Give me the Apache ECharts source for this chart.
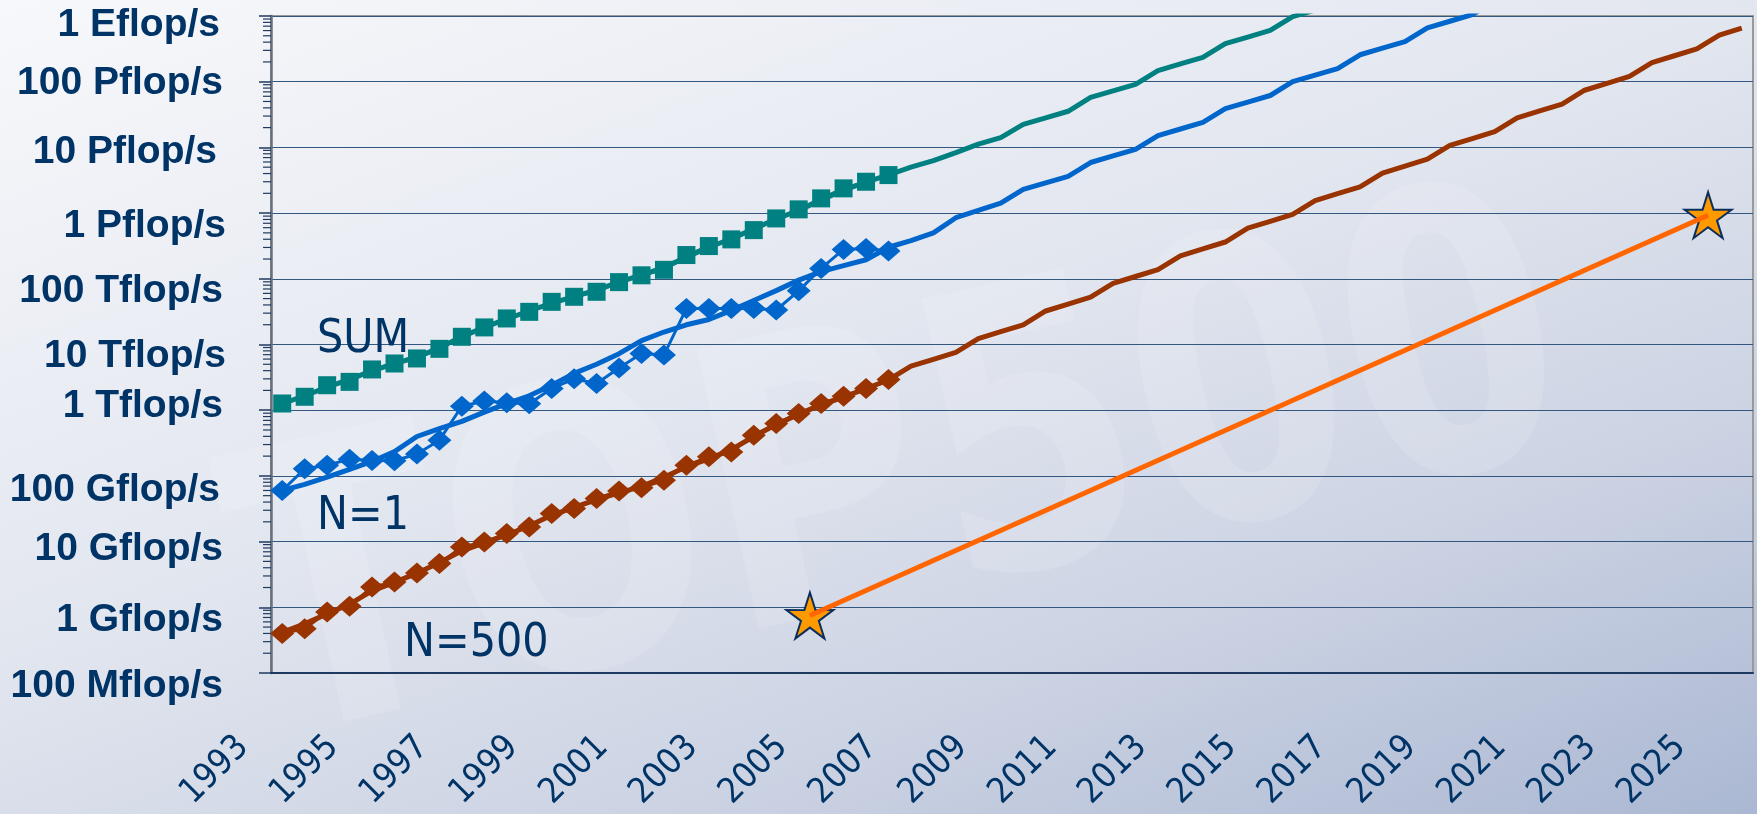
<!DOCTYPE html>
<html><head><meta charset="utf-8">
<script src="https://cdn.jsdelivr.net/npm/echarts@6/dist/echarts.min.js"></script>
<style>html,body{margin:0;padding:0;width:1757px;height:814px;overflow:hidden;background:#e6e9f0}#c{width:1757px;height:814px}</style>
</head><body><div id="c"></div>
<script>
// ---- data (Gflop/s) ----
const years = [1993,1994,1995,1996,1997,1998,1999,2000,2001,2002,2003,2004,2005,2006,2007,2008,2009,2010,2011,2012,2013,2014,2015,2016,2017,2018,2019,2020,2021,2022,2023,2024,2025];
const lists = ['Jun','Nov'];
const sumData = [1265,1600,2400,2700,4170,5140,6130,8590,13100,18200,24900,31400,44600,53200,63400,89000,113000,137000,230000,315000,398000,551000,830000,1140000,1675000,2380000,3000000,3790000];
const n1Data = [60,128,145,180,172,170,215,350,1150,1380,1300,1250,2140,3000,2550,4400,7300,6900,35400,35400,35400,35400,33500,65600,144000,280000,290000,265000];
const n500Data = [0.40,0.47,0.85,1.04,2.04,2.43,3.33,4.63,8.3,9.9,13.3,16.7,26.7,31.9,45.3,59,66,86,145,195,232,417,628,891,1265,1634,2143,2938];
const sumTrend = [1259,1660,2239,2951,3981,5129,6457,8913,13180,18200,24550,32360,42660,53700,67610,89130,114800,147900,213800,302000,407400,575400,812800,1096000,1585000,2239000,2951000,3802000,5012000,6310000,8318000,11220000,14130000,22390000,28180000,35480000,57540000,72440000,91200000,147900000,186200000,234400000,380200000,478600000,602600000,977200000,1230000000,1549000000];
const n1Trend = [60.3,74.1,95.5,126,166,234,398,525,676,933,1259,1660,2399,3631,5012,7244,11480,15490,19950,23990,33110,46770,66070,95500,128800,158500,195000,302000,380200,501200,851100,1096000,1413000,2291000,2884000,3631000,5888000,7413000,9333000,15140000,19050000,23990000,38900000,48980000,61660000,100000000,125900000,158500000,257000000,323600000,407400000,660700000,831800000,1047000000,1698000000];
const n500Trend = [0.417,0.562,0.794,1.12,1.78,2.40,3.31,4.79,7.24,9.55,12.6,17.4,25.1,33.1,43.7,55.0,69.2,95.5,138,182,251,398,603,871,1202,1585,2138,2884,4677,5957,7586,12300,15670,19950,32360,41210,52480,85110,108400,138000,223900,285100,363100,588800,749900,955000,1549000,1972000,2512000,4074000,5188000,6607000,10720000,13650000,17380000,28180000,35890000,45710000,74130000,94410000,120200000,195000000,248300000,316200000,512900000,653100000];
const laptopYears = [2005, 2025];
const laptopValues = [0.75, 930000];
const yTickLabels = ['100 Mflop/s','1 Gflop/s','10 Gflop/s','100 Gflop/s','1 Tflop/s','10 Tflop/s','100 Tflop/s','1 Pflop/s','10 Pflop/s','100 Pflop/s','1 Eflop/s'];
const seriesNames = ['SUM','N=1','N=500'];

// ---- derived ----
const categories = years.flatMap(y => lists.map(m => y + ' ' + m));
const minorTickValues = [];
for (let k = -1; k < 9; k++) for (let m = 2; m <= 9; m++) minorTickValues.push(m * Math.pow(10, k));

const NAVY = '#003366';
const AXIS = '#1f3a60';
const yFont = "'Liberation Sans', Arial, sans-serif";
const tFont = "'DejaVu Sans Condensed', 'DejaVu Sans', sans-serif";
const labelOff = [13,13,8,14,-4,12,12,13,5,2,9];
const labelPadR = [3,3,3,6,3,0,3,0,9,3,6];
const rich = {};
yTickLabels.forEach((t, i) => {
  const o = labelOff[i];
  rich['t' + i] = {fontFamily: yFont, fontWeight: 'bold', fontSize: 39, color: NAVY,
    padding: [o > 0 ? 2 * o : 0, labelPadR[i], o < 0 ? -2 * o : 0, 0]};
});
const starPath = 'path://M50 0 L61.17 34.63 L97.55 34.55 L68.07 55.87 L79.39 90.45 L50 69 L20.61 90.45 L31.93 55.87 L2.45 34.55 L38.83 34.63 Z';
const laptop = laptopYears.map((y, i) => [y, laptopValues[i]]);

const chart = echarts.init(document.getElementById('c'), null, {renderer: 'canvas', width: 1757, height: 814});
chart.setOption({
  animation: false,
  backgroundColor: 'transparent',
  graphic: [
    {type: 'rect', z: -100, silent: true, shape: {x: 0, y: 0, width: 1757, height: 814},
      style: {fill: new echarts.graphic.LinearGradient(644, -235, 1112, 1049, [
        {offset: 0, color: '#f7f8fb'}, {offset: 0.45, color: '#e2e6ef'},
        {offset: 0.72, color: '#ccd3e3'}, {offset: 1, color: '#abb8d3'}], true)}},
    {type: 'text', z: -50, silent: true, x: 290, y: 830, rotation: 0.22, scaleY: 1.27,
      style: {text: 'TOP500', fontSize: 309, fontWeight: 'bold', fontFamily: 'DejaVu Sans',
        fill: 'rgba(255,255,255,0.13)', align: 'left', verticalAlign: 'bottom'}},
    {type: 'text', z: 50, silent: true, x: 317, y: 340,
      style: {text: seriesNames[0], fontSize: 46, fontFamily: tFont, fill: NAVY, align: 'left', verticalAlign: 'middle'}},
    {type: 'text', z: 50, silent: true, x: 317, y: 517,
      style: {text: seriesNames[1], fontSize: 46, fontFamily: tFont, fill: NAVY, align: 'left', verticalAlign: 'middle'}},
    {type: 'text', z: 50, silent: true, x: 404, y: 644,
      style: {text: seriesNames[2], fontSize: 46, fontFamily: tFont, fill: NAVY, align: 'left', verticalAlign: 'middle'}}
  ],
  grid: {left: 271, top: 16, width: 1482, height: 657, show: true, borderColor: '#9a9a9a', borderWidth: 2, backgroundColor: 'transparent'},
  xAxis: [
    {type: 'category', data: categories, boundaryGap: true,
      axisLine: {lineStyle: {color: AXIS, width: 2}},
      axisTick: {interval: 1, length: 12, lineStyle: {color: AXIS, width: 1.5}},
      axisLabel: {interval: 3, rotate: 45, margin: 30, padding: [0, 55, 0, 0], fontFamily: tFont, fontSize: 35, color: NAVY,
        formatter: v => v.slice(0, 4)},
      splitLine: {show: false}},
    {type: 'value', min: 1993, max: 2026, show: false}
  ],
  yAxis: {type: 'log', logBase: 10, min: 0.1, max: 1e9, splitNumber: 10,
    axisLine: {show: true, lineStyle: {color: '#66707d', width: 2.5}},
    axisTick: {show: true, length: 12, lineStyle: {color: AXIS, width: 1.5}},
    splitLine: {show: true, lineStyle: {color: '#34577f', width: 1.2}},
    axisLabel: {margin: 45, rich,
      formatter: v => { const i = Math.round(Math.log10(v)) + 1; return '{t' + i + '|' + yTickLabels[i] + '}'; }}},
  series: [
    {type: 'custom', name: 'minor', coordinateSystem: 'cartesian2d', clip: false, silent: true, z: 1,
      data: minorTickValues.map(v => [0, v]), encode: {x: 0, y: 1},
      renderItem: (params, api) => {
        const y = api.coord([0, api.value(1)])[1];
        const x0 = params.coordSys.x;
        return {type: 'line', shape: {x1: x0 - 8, y1: y, x2: x0, y2: y}, style: {stroke: AXIS, lineWidth: 1.2}};
      }},
    {type: 'line', name: 'SUM trend', data: sumTrend, symbol: 'none', lineStyle: {color: '#008080', width: 5}, z: 2},
    {type: 'line', name: 'N=1 trend', data: n1Trend, symbol: 'none', lineStyle: {color: '#0066cc', width: 5}, z: 2},
    {type: 'line', name: 'N=500 trend', data: n500Trend, symbol: 'none', lineStyle: {color: '#993300', width: 5}, z: 2},
    {type: 'line', name: 'SUM', data: sumData, symbol: 'rect', symbolSize: 18, showAllSymbol: true, itemStyle: {color: '#008080'}, lineStyle: {color: '#008080', width: 3}, z: 3},
    {type: 'line', name: 'N=1', data: n1Data, symbol: 'diamond', symbolSize: [24, 21], showAllSymbol: true, itemStyle: {color: '#0066cc'}, lineStyle: {color: '#0066cc', width: 3}, z: 3},
    {type: 'line', name: 'N=500', data: n500Data, symbol: 'diamond', symbolSize: [24, 21], showAllSymbol: true, itemStyle: {color: '#993300'}, lineStyle: {color: '#993300', width: 3}, z: 3},
    {type: 'scatter', name: 'stars', xAxisIndex: 1, data: laptop, symbol: starPath, symbolSize: [47, 46],
      itemStyle: {color: '#ff9900', borderColor: '#0b2f5c', borderWidth: 2, opacity: 1}, z: 4},
    {type: 'line', name: 'laptop', xAxisIndex: 1, data: laptop, symbol: 'none', lineStyle: {color: '#ff6600', width: 5}, z: 5}
  ]
});
</script>
</body></html>
